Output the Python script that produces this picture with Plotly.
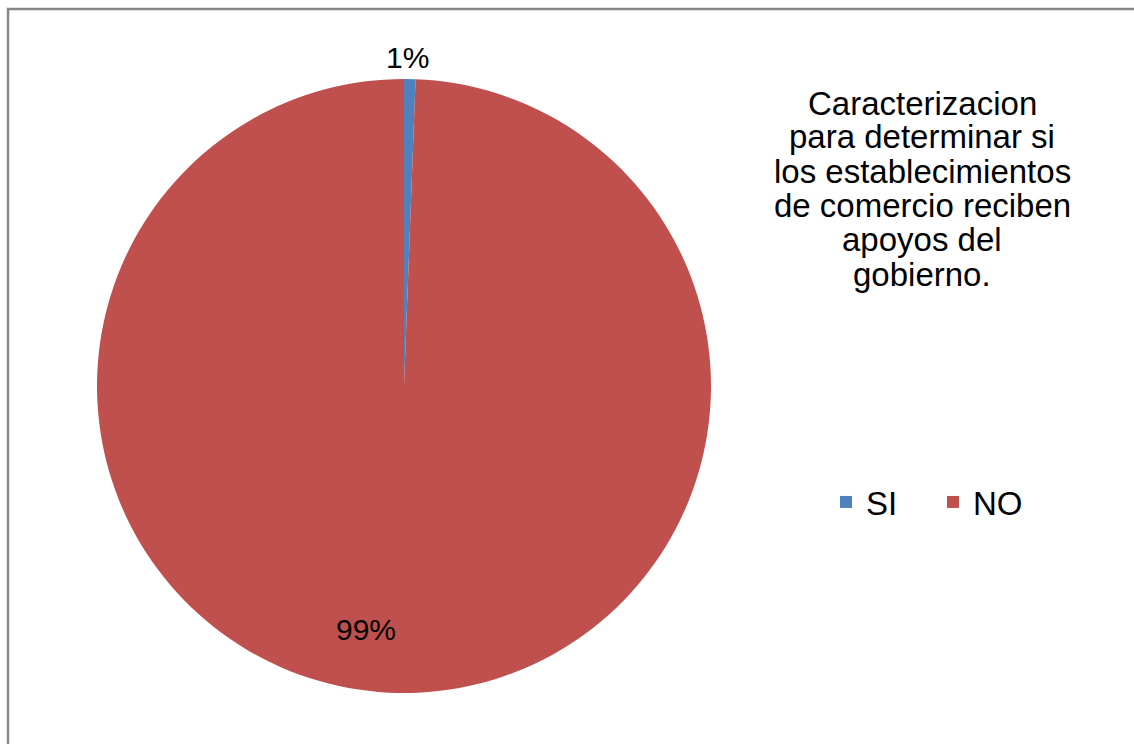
import plotly.graph_objects as go

# ---- data ----
labels = ["SI", "NO"]
values = [0.6, 99.4]
colors = ["#4F81BD", "#C0504D"]
title_lines = [
    "Caracterizacion",
    "para determinar si",
    "los establecimientos",
    "de comercio reciben",
    "apoyos del",
    "gobierno.",
]

W, H = 1134, 744
FONT = "Liberation Sans, Arial, sans-serif"

# pie box in pixels
px0, px1, py0, py1 = 97, 711, 79, 693

fig = go.Figure(
    go.Pie(
        labels=labels,
        values=values,
        marker=dict(colors=colors, line=dict(width=0)),
        sort=False,
        direction="clockwise",
        rotation=0,
        textinfo="none",
        hoverinfo="label+percent",
        domain=dict(x=[px0 / W, px1 / W], y=[1 - py1 / H, 1 - py0 / H]),
        showlegend=True,
    )
)

total = sum(values)
pcts = [f"{v / total:.0%}" for v in values]

annotations = []
# percentage labels
label_pos = [(407, 57), (366, 629)]
for txt, (x, y) in zip(pcts, label_pos):
    annotations.append(dict(
        x=x / W, y=1 - y / H, xref="paper", yref="paper",
        text=txt, showarrow=False, xanchor="center", yanchor="middle",
        font=dict(family=FONT, size=30, color="#000000"),
    ))

# title lines
line_centers = [104, 137, 171, 206, 240, 274]
for txt, y in zip(title_lines, line_centers):
    annotations.append(dict(
        x=922 / W, y=1 - y / H, xref="paper", yref="paper",
        text=txt, showarrow=False, xanchor="center", yanchor="middle",
        font=dict(family=FONT, size=33, color="#000000"),
    ))

fig.update_layout(
    width=W, height=H,
    margin=dict(l=0, r=0, t=0, b=0),
    paper_bgcolor="white",
    plot_bgcolor="white",
    annotations=annotations,
    legend=dict(
        orientation="h",
        x=826 / W, xanchor="left",
        y=1 - 502 / H, yanchor="middle",
        font=dict(family=FONT, size=33, color="#000000"),
        bgcolor="rgba(0,0,0,0)",
        traceorder="normal",
        entrywidth=62,
        entrywidthmode="pixels",
    ),
    shapes=[dict(
        type="rect", xref="paper", yref="paper",
        x0=8 / W, x1=1.05, y0=-0.05, y1=1 - 9 / H,
        line=dict(color="#878787", width=2.5),
        fillcolor="rgba(0,0,0,0)", layer="above",
    )],
)

fig.write_html(
    "out.html",
    config={"displayModeBar": False},
    post_script="document.body.style.margin='0px';document.body.style.overflow='hidden';",
)
